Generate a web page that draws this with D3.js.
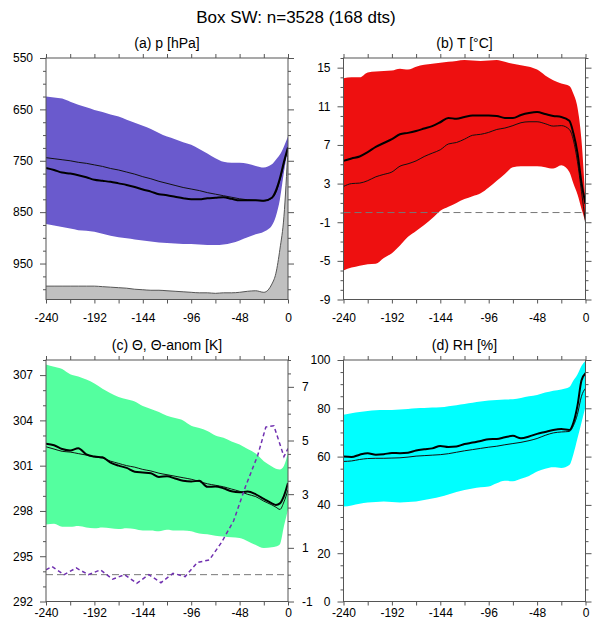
<!DOCTYPE html>
<html>
<head>
<meta charset="utf-8">
<script src="https://cdn.jsdelivr.net/npm/d3@7"></script>
<style>
  html, body { margin: 0; padding: 0; background: #fff; }
  svg { display: block; font-family: "Liberation Sans", Arial, Helvetica, sans-serif; }
</style>
</head>
<body>
<svg id="chart" width="592" height="625"></svg>
<script>
// Composite trajectory statistics, hours relative to arrival (t = 0)
const hours = [-240,-232,-224,-216,-208,-200,-192,-184,-176,-168,-160,-152,-144,-136,-128,-120,-112,-104,-96,-88,-80,-72,-64,-56,-48,-40,-32,-24,-16,-12,-8,-4,0];

// (a) pressure [hPa]
const pLow   = [625,627,629,635,641,646,651,655,660,664,670,676,682,688,696,703,708,714,719,727,736,745,752,754,754,756,760,763,757,748,738,722,703];
const pHigh  = [873,876,879,882,885,886,888,892,896,899,901,903,905,907,909,910,911,912,912,913,914,914,913,910,905,899,893,888,876,858,825,772,728];
const pMean  = [764,768,773,775,778,782,787,789,791,794,797,801,806,810,815,817,820,823,825,825,823,822,821,824,827,827,827,828,822,808,784,752,724];
const pMed   = [744,746,748,750,753,755,758,761,765,768,772,776,781,785,790,794,798,802,805,808,812,815,818,821,824,826,827,828,823,812,788,756,724];
const pSurf  = [994,994,994,994,994,994,994,995,996,997,998,1000,1001,1002,1002,1003,1004,1005,1006,1007,1007,1008,1007,1007,1006,1004,1003,1006,990,969,922,858,725];

// (b) temperature [°C]
const tHigh  = [13.9,14.0,14.0,14.5,14.6,14.65,14.7,14.9,14.8,15.1,15.3,15.4,15.5,15.6,15.7,15.8,15.75,15.7,15.75,15.8,15.6,15.4,15.25,15.1,14.8,14.2,13.7,13.35,13.1,12.3,10.9,7.5,1.0];
const tLow   = [-6.0,-5.7,-5.5,-5.35,-5.3,-4.7,-4.2,-3.4,-2.5,-1.9,-1.3,-0.6,0.2,0.6,1.0,1.4,1.7,2.0,2.6,3.3,4.0,4.7,4.8,4.8,4.8,4.7,4.55,4.9,4.2,3.0,1.9,0.4,-1.0];
const tMean  = [5.35,5.6,5.8,6.25,6.8,7.2,7.6,8.1,8.25,8.45,8.7,8.95,9.35,9.8,9.7,9.9,10.05,10.05,10.05,10.0,9.8,9.8,10.1,10.3,10.4,10.2,10.0,9.9,9.5,8.2,6.2,3.1,0.9];
const tMed   = [2.7,3.0,3.05,3.3,3.7,3.95,4.2,4.8,5.05,5.35,5.8,6.15,6.5,7.1,7.25,7.6,8.0,8.1,8.3,8.6,8.75,9.0,9.3,9.4,9.4,9.2,8.95,9.0,8.6,7.5,5.3,2.2,-1.0];

// (c) potential temperature [K] and its anomaly [K]
const thHigh = [307.7,307.55,307.4,307.05,306.9,306.7,306.45,306.1,305.8,305.55,305.4,305.25,304.95,304.75,304.55,304.3,304.15,304.0,303.65,303.5,303.3,303.0,302.85,302.6,302.4,302.1,301.8,301.3,300.95,300.8,300.75,301.0,301.85];
const thLow  = [297.1,297.15,296.95,296.95,297.0,296.9,296.85,296.9,296.85,296.8,296.85,296.8,296.7,296.7,296.65,296.75,296.7,296.7,296.65,296.5,296.45,296.35,296.3,296.25,296.2,296.0,295.75,295.55,295.6,295.65,295.8,297.0,298.1];
const thMean = [302.45,302.35,302.1,302.0,302.15,301.75,301.6,301.55,301.2,301.0,300.85,300.6,300.55,300.5,300.25,300.3,300.15,300.0,299.95,300.0,299.6,299.62,299.5,299.3,299.23,299.28,299.1,298.8,298.5,298.4,298.5,299.0,299.85];
const thMed  = [302.25,302.1,301.95,301.9,301.8,301.7,301.58,301.5,301.3,301.15,301.0,300.9,300.75,300.65,300.5,300.4,300.3,300.2,300.1,299.95,299.8,299.7,299.6,299.45,299.3,299.1,298.95,298.65,298.4,298.25,298.1,298.6,299.4];
const anomHours = [-240,-234,-222,-210,-198,-186,-174,-162,-150,-138,-126,-114,-102,-90,-78,-66,-54,-42,-30,-22,-14,-4,0];
const thAnom    = [0.18,0.3,0.0,0.25,0.0,0.18,-0.17,0.0,-0.32,0.0,-0.3,0.05,-0.07,0.45,0.55,1.2,2.0,3.3,4.45,5.5,5.55,4.4,4.7];

// (d) relative humidity [%]
const rhHigh = [77.3,78.0,78.5,78.9,79.2,79.3,79.3,79.5,79.7,80.0,80.1,80.3,80.4,80.9,81.3,81.8,82.3,82.8,83.2,83.4,83.6,83.7,84.3,85.0,85.5,86.5,87.3,87.8,88.8,91.5,94.0,97.5,99.7];
const rhLow  = [39.3,39.8,40.5,41.0,41.2,41.4,41.2,41.0,41.2,41.4,42.0,42.7,43.4,44.3,45.3,46.2,46.8,47.3,47.6,49.0,50.0,49.8,50.8,52.0,53.8,55.0,55.6,55.3,56.5,61.0,67.5,74.0,80.7];
const rhMean = [60.0,59.8,60.8,61.4,60.8,61.0,61.5,61.4,61.6,62.5,63.0,63.4,64.4,64.0,64.2,65.2,65.8,66.5,67.2,67.3,68.0,68.6,67.6,68.3,69.4,70.2,71.0,71.4,71.0,74.0,81.0,91.5,94.5];
const rhMed  = [58.0,58.2,58.8,59.2,59.3,59.3,59.4,59.5,59.8,60.2,60.4,60.6,60.8,61.2,61.8,62.4,62.9,63.4,63.9,64.3,64.9,65.4,65.9,66.6,67.5,68.8,69.8,70.2,70.4,72.8,77.5,85.0,88.3];

// Axis ticks
const xMajor = d3.range(-240, 1, 48);
const xMinor = d3.range(-216, 0, 48);

const svg = d3.select("#chart");
const FONT_TICK = 12;
const plain = d => String(d);   // keep the ASCII hyphen for negative numbers

svg.append("text")
  .attr("x", 296).attr("y", 23)
  .attr("text-anchor", "middle")
  .attr("font-size", 17)
  .text("Box SW: n=3528 (168 dts)");

const W = 242, H = 241.5;
let clipId = 0;

function panel(opt) {
  const g = svg.append("g").attr("transform", `translate(${opt.left},${opt.top})`);
  const x = d3.scaleLinear().domain([-240, 0]).range([0, W]);
  const y = d3.scaleLinear().domain(opt.yDomain).range([H, 0]);
  const id = "clip" + (clipId++);
  g.append("clipPath").attr("id", id).append("rect").attr("width", W).attr("height", H);
  const body = g.append("g").attr("clip-path", `url(#${id})`);

  // envelope
  const band = d3.area().x((d, i) => x(hours[i])).y0((d, i) => y(opt.lo[i])).y1((d, i) => y(opt.hi[i])).curve(d3.curveMonotoneX);
  body.append("path").datum(opt.hi).attr("d", band).attr("fill", opt.color);

  if (opt.extra) opt.extra(body, x, y);

  const line = d3.line().x((d, i) => x(hours[i])).y(d => y(d)).curve(d3.curveMonotoneX);
  body.append("path").datum(opt.med).attr("d", line).attr("fill", "none").attr("stroke", "#111").attr("stroke-width", 1);
  body.append("path").datum(opt.mean).attr("d", line).attr("fill", "none").attr("stroke", "#000").attr("stroke-width", 2);

  if (opt.after) opt.after(body, x, y);

  // axes: ticks point outward on all four sides
  const ax = (gen, tr) => {
    const a = g.append("g").attr("transform", tr).call(gen);
    a.select(".domain").remove();
    a.selectAll("line").attr("stroke", "#555");
    a.selectAll("text").attr("font-size", FONT_TICK).attr("fill", "#000")
      .attr("font-family", '"Liberation Sans", Arial, Helvetica, sans-serif');
    return a;
  };
  const yMajor = opt.yMajor, yMinor = opt.yMinor;
  ax(d3.axisBottom(x).tickValues(xMajor).tickSize(4).tickPadding(opt.xPad).tickFormat(plain), `translate(0,${H})`);
  ax(d3.axisBottom(x).tickValues(xMinor).tickSize(4).tickFormat(""), `translate(0,${H})`);
  ax(d3.axisTop(x).tickValues(xMajor.concat(xMinor)).tickSize(4).tickFormat(""), `translate(0,0)`);
  ax(d3.axisLeft(y).tickValues(yMajor).tickSize(6).tickPadding(7).tickFormat(plain), `translate(0,0)`);
  ax(d3.axisLeft(y).tickValues(yMinor).tickSize(3).tickFormat(""), `translate(0,0)`);
  if (!opt.rightAxis) {
    ax(d3.axisRight(y).tickValues(yMajor).tickSize(6).tickFormat(""), `translate(${W},0)`);
    ax(d3.axisRight(y).tickValues(yMinor).tickSize(3).tickFormat(""), `translate(${W},0)`);
  } else {
    opt.rightAxis(g, ax);
  }

  g.append("rect").attr("width", W).attr("height", H)
    .attr("fill", "none").attr("stroke", "#555").attr("stroke-width", 1);

  g.append("text").attr("x", W / 2).attr("y", -10)
    .attr("text-anchor", "middle").attr("font-size", 14).text(opt.title);
  return { g, x, y };
}

// (a) pressure, reversed axis, ground shading below the surface pressure
panel({
  left: 46, top: 58, title: "(a) p [hPa]", color: "#6a5acd",
  yDomain: [1020, 550], lo: pHigh, hi: pLow, mean: pMean, med: pMed,
  yMajor: [550, 650, 750, 850, 950], yMinor: d3.range(575, 1020, 25).filter(v => (v - 550) % 100 !== 0),
  xPad: 10,
  extra: (body, x, y) => {
    const ground = d3.area().x((d, i) => x(hours[i])).y0(y(1020)).y1(d => y(d)).curve(d3.curveMonotoneX);
    body.append("path").datum(pSurf).attr("d", ground).attr("fill", "#c0c0c0");
    const edge = d3.line().x((d, i) => x(hours[i])).y(d => y(d)).curve(d3.curveMonotoneX);
    body.append("path").datum(pSurf).attr("d", edge).attr("fill", "none").attr("stroke", "#555").attr("stroke-width", 1);
  }
});

// (b) temperature with 0 °C reference
panel({
  left: 343.5, top: 58, title: "(b) T [°C]", color: "#ee1010",
  yDomain: [-9, 16], lo: tLow, hi: tHigh, mean: tMean, med: tMed,
  yMajor: d3.range(-9, 16, 4), yMinor: d3.range(-8, 17, 1).filter(v => (v + 9) % 4 !== 0),
  xPad: 10,
  after: (body, x, y) => {
    body.append("line").attr("x1", 0).attr("x2", W).attr("y1", y(0)).attr("y2", y(0))
      .attr("stroke", "#777").attr("stroke-width", 1).attr("stroke-dasharray", "7,4");
  }
});

// (c) potential temperature, anomaly on the right-hand axis
const anomY = d3.scaleLinear().domain([-1, 8]).range([H, 0]);
panel({
  left: 46, top: 360, title: "(c) \u0398, \u0398-anom [K]", color: "#54ff9f",
  yDomain: [292, 308], lo: thLow, hi: thHigh, mean: thMean, med: thMed,
  yMajor: d3.range(292, 308, 3), yMinor: d3.range(293, 309, 1).filter(v => (v - 292) % 3 !== 0),
  xPad: 3,
  after: (body, x, y) => {
    body.append("line").attr("x1", 0).attr("x2", W).attr("y1", anomY(0)).attr("y2", anomY(0))
      .attr("stroke", "#777").attr("stroke-width", 1).attr("stroke-dasharray", "7,4");
    const aLine = d3.line().x((d, i) => x(anomHours[i])).y(d => anomY(d));
    body.append("path").datum(thAnom).attr("d", aLine).attr("fill", "none")
      .attr("stroke", "#7030b0").attr("stroke-width", 1.5).attr("stroke-dasharray", "4,3");
  },
  rightAxis: (g, ax) => {
    ax(d3.axisRight(anomY).tickValues(d3.range(-1, 8, 2)).tickSize(6).tickPadding(8).tickFormat(plain), `translate(${W},0)`);
    ax(d3.axisRight(anomY).tickValues(d3.range(-0.5, 8.01, 0.5).filter(v => (v + 1) % 2 !== 0)).tickSize(3).tickFormat(""), `translate(${W},0)`);
  }
});

// (d) relative humidity
panel({
  left: 343.5, top: 360, title: "(d) RH [%]", color: "#00ffff",
  yDomain: [0, 100], lo: rhLow, hi: rhHigh, mean: rhMean, med: rhMed,
  yMajor: d3.range(0, 101, 20), yMinor: d3.range(5, 100, 5).filter(v => v % 20 !== 0),
  xPad: 3
});
</script>
</body>
</html>
